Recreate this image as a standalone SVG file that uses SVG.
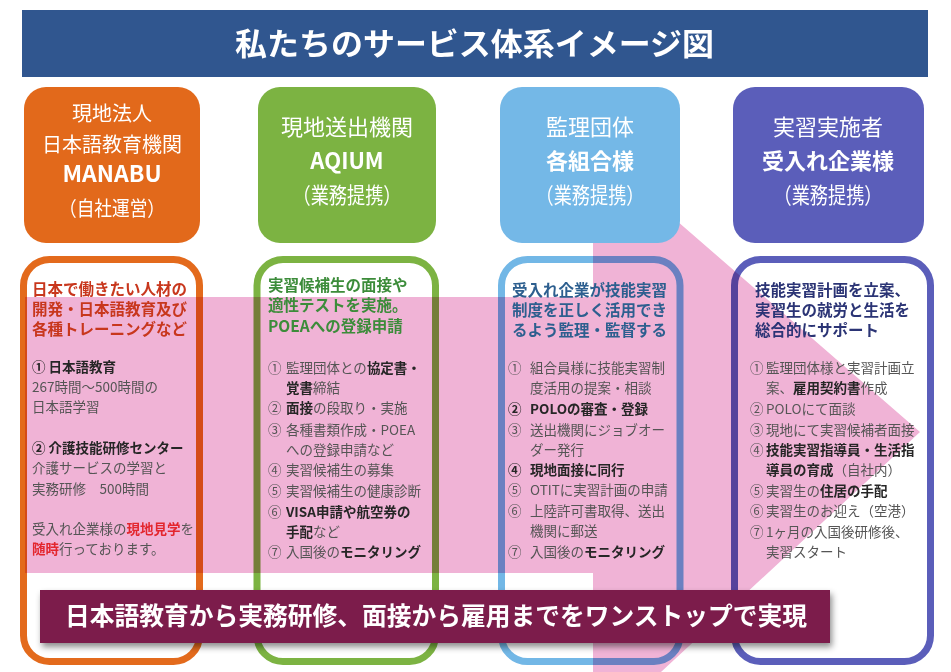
<svg xmlns="http://www.w3.org/2000/svg" width="951" height="672" viewBox="0 0 951 672">
<defs>
<style>
text{font-family:"Noto Sans CJK JP","Noto Sans",sans-serif}
.ht{fill:#fff;font-size:22px;text-anchor:middle}
.hb{font-weight:bold}
.outline{fill:none;stroke-width:7}
.t{font-size:13.5px;fill:#555}
.b{font-weight:bold;fill:#262626}
.r{font-weight:bold;fill:#E3262E}
.hd{font-size:15.5px;font-weight:bold}
</style>
<filter id="sh" x="-5%" y="-30%" width="110%" height="170%">
<feDropShadow dx="2" dy="4" stdDeviation="3" flood-color="#000" flood-opacity="0.45"/>
</filter>
</defs>
<rect width="951" height="672" fill="#fff"/>

<g id="title">
<rect x="22" y="10" width="906" height="67" fill="#30568F"/>
<text x="235" y="55" font-size="31" font-weight="bold" fill="#fff" textLength="479" lengthAdjust="spacingAndGlyphs">私たちのサービス体系イメージ図</text>
</g>

<g id="outlines">
<rect class="outline" x="23.5" y="259.5" width="176" height="402" rx="26" stroke="#E36A1C"/>
<rect class="outline" x="257" y="259.5" width="178.5" height="402" rx="26" stroke="#7CB342"/>
<rect class="outline" x="501.5" y="259.5" width="178.5" height="402" rx="26" stroke="#72B7E6"/>
<rect class="outline" x="734.5" y="259.5" width="196" height="402" rx="26" stroke="#5B5EBA"/>
</g>

<g id="flow-arrow">
<polygon points="25,297 593,297 593,148 920,432 593,735 593,573 25,573" fill="#F0B3D6" style="mix-blend-mode:multiply"/>
</g>

<g id="node-manabu">
<rect x="24" y="87" width="176" height="156" rx="22" fill="#E2691B"/>
<text class="ht" x="112" y="120.5" style="font-size:20px">現地法人</text>
<text class="ht" x="112" y="151.5" style="font-size:20px">日本語教育機関</text>
<text class="ht hb" x="112" y="182" style="font-size:23px">MANABU</text>
<text class="ht" x="112" y="215.5" style="font-size:20px" textLength="106" lengthAdjust="spacingAndGlyphs">（自社運営）</text>
</g>

<g id="node-aqium">
<rect x="258" y="87" width="178" height="156" rx="22" fill="#7CB342"/>
<text class="ht" x="347" y="135">現地送出機関</text>
<text class="ht hb" x="347" y="169">AQIUM</text>
<text class="ht" x="347" y="203" textLength="109" lengthAdjust="spacingAndGlyphs">（業務提携）</text>
</g>

<g id="node-kanri">
<rect x="500" y="87" width="180" height="156" rx="22" fill="#74B8E7"/>
<text class="ht" x="590" y="135">監理団体</text>
<text class="ht hb" x="590" y="169">各組合様</text>
<text class="ht" x="590" y="203" textLength="109" lengthAdjust="spacingAndGlyphs">（業務提携）</text>
</g>

<g id="node-jisshi">
<rect x="733" y="87" width="191" height="156" rx="22" fill="#5B5EBA"/>
<text class="ht" x="828" y="135">実習実施者</text>
<text class="ht hb" x="828" y="169">受入れ企業様</text>
<text class="ht" x="828" y="203" textLength="109" lengthAdjust="spacingAndGlyphs">（業務提携）</text>
</g>

<g id="detail-manabu">
<text class="hd" fill="#C8371D" x="32" y="295">日本で働きたい人材の</text>
<text class="hd" fill="#C8371D" x="32" y="315">開発・日本語教育及び</text>
<text class="hd" fill="#C8371D" x="32" y="335">各種トレーニングなど</text>
<text class="t" x="32" y="372"><tspan class="b">① 日本語教育</tspan></text>
<text class="t" x="32" y="392">267時間〜500時間の</text>
<text class="t" x="32" y="412">日本語学習</text>
<text class="t" x="32" y="453"><tspan class="b">② 介護技能研修センター</tspan></text>
<text class="t" x="32" y="473">介護サービスの学習と</text>
<text class="t" x="32" y="494">実務研修　500時間</text>
<text class="t" x="32" y="534">受入れ企業様の<tspan class="r">現地見学</tspan>を</text>
<text class="t" x="32" y="554"><tspan class="r">随時</tspan>行っております。</text>
</g>

<g id="detail-aqium">
<text class="hd" fill="#3C8C3A" x="268" y="291">実習候補生の面接や</text>
<text class="hd" fill="#3C8C3A" x="268" y="311">適性テストを実施。</text>
<text class="hd" fill="#3C8C3A" x="268" y="332">POEAへの登録申請</text>
<text class="t" x="268" y="373">①</text><text class="t" x="286" y="373">監理団体との<tspan class="b">協定書・</tspan></text>
<text class="t" x="286" y="393"><tspan class="b">覚書</tspan>締結</text>
<text class="t" x="268" y="413">②</text><text class="t" x="286" y="413"><tspan class="b">面接</tspan>の段取り・実施</text>
<text class="t" x="268" y="435">③</text><text class="t" x="286" y="435">各種書類作成・POEA</text>
<text class="t" x="286" y="455">への登録申請など</text>
<text class="t" x="268" y="475">④</text><text class="t" x="286" y="475">実習候補生の募集</text>
<text class="t" x="268" y="496">⑤</text><text class="t" x="286" y="496">実習候補生の健康診断</text>
<text class="t" x="268" y="517">⑥</text><text class="t" x="286" y="517"><tspan class="b">VISA申請や航空券の</tspan></text>
<text class="t" x="286" y="537"><tspan class="b">手配</tspan>など</text>
<text class="t" x="268" y="557">⑦</text><text class="t" x="286" y="557">入国後の<tspan class="b">モニタリング</tspan></text>
</g>

<g id="detail-kanri">
<text class="hd" fill="#2D5F8F" x="512" y="296">受入れ企業が技能実習</text>
<text class="hd" fill="#2D5F8F" x="512" y="316">制度を正しく活用でき</text>
<text class="hd" fill="#2D5F8F" x="512" y="336">るよう監理・監督する</text>
<text class="t" x="508" y="373">①</text><text class="t" x="530" y="373">組合員様に技能実習制</text>
<text class="t" x="530" y="393">度活用の提案・相談</text>
<text class="t b" x="508" y="414">②</text><text class="t b" x="530" y="414">POLOの審査・登録</text>
<text class="t" x="508" y="435">③</text><text class="t" x="530" y="435">送出機関にジョブオー</text>
<text class="t" x="530" y="455">ダー発行</text>
<text class="t b" x="508" y="475">④</text><text class="t b" x="530" y="475">現地面接に同行</text>
<text class="t" x="508" y="495">⑤</text><text class="t" x="530" y="495">OTITに実習計画の申請</text>
<text class="t" x="508" y="516">⑥</text><text class="t" x="530" y="516">上陸許可書取得、送出</text>
<text class="t" x="530" y="536">機関に郵送</text>
<text class="t" x="508" y="557">⑦</text><text class="t" x="530" y="557">入国後の<tspan class="b">モニタリング</tspan></text>
</g>

<g id="detail-jisshi">
<text class="hd" fill="#2B3475" x="755" y="296">技能実習計画を立案、</text>
<text class="hd" fill="#2B3475" x="755" y="316">実習生の就労と生活を</text>
<text class="hd" fill="#2B3475" x="755" y="336">総合的にサポート</text>
<text class="t" x="750" y="373">①</text><text class="t" x="766" y="373">監理団体様と実習計画立</text>
<text class="t" x="766" y="393">案、<tspan class="b">雇用契約書</tspan>作成</text>
<text class="t" x="750" y="414">②</text><text class="t" x="766" y="414">POLOにて面談</text>
<text class="t" x="750" y="435">③</text><text class="t" x="766" y="435">現地にて実習候補者面接</text>
<text class="t" x="750" y="455">④</text><text class="t" x="766" y="455"><tspan class="b">技能実習指導員・生活指</tspan></text>
<text class="t" x="766" y="475"><tspan class="b">導員の育成</tspan>（自社内）</text>
<text class="t" x="750" y="496">⑤</text><text class="t" x="766" y="496">実習生の<tspan class="b">住居の手配</tspan></text>
<text class="t" x="750" y="516">⑥</text><text class="t" x="766" y="516">実習生のお迎え（空港）</text>
<text class="t" x="750" y="537">⑦</text><text class="t" x="766" y="537">1ヶ月の入国後研修後、</text>
<text class="t" x="766" y="557">実習スタート</text>
</g>

<g id="banner">
<rect x="40" y="590" width="790" height="53" fill="#7B1A4C" filter="url(#sh)"/>
<text x="65" y="624.5" font-size="25" font-weight="bold" fill="#fff" textLength="742" lengthAdjust="spacingAndGlyphs">日本語教育から実務研修、面接から雇用までをワンストップで実現</text>
</g>
</svg>
